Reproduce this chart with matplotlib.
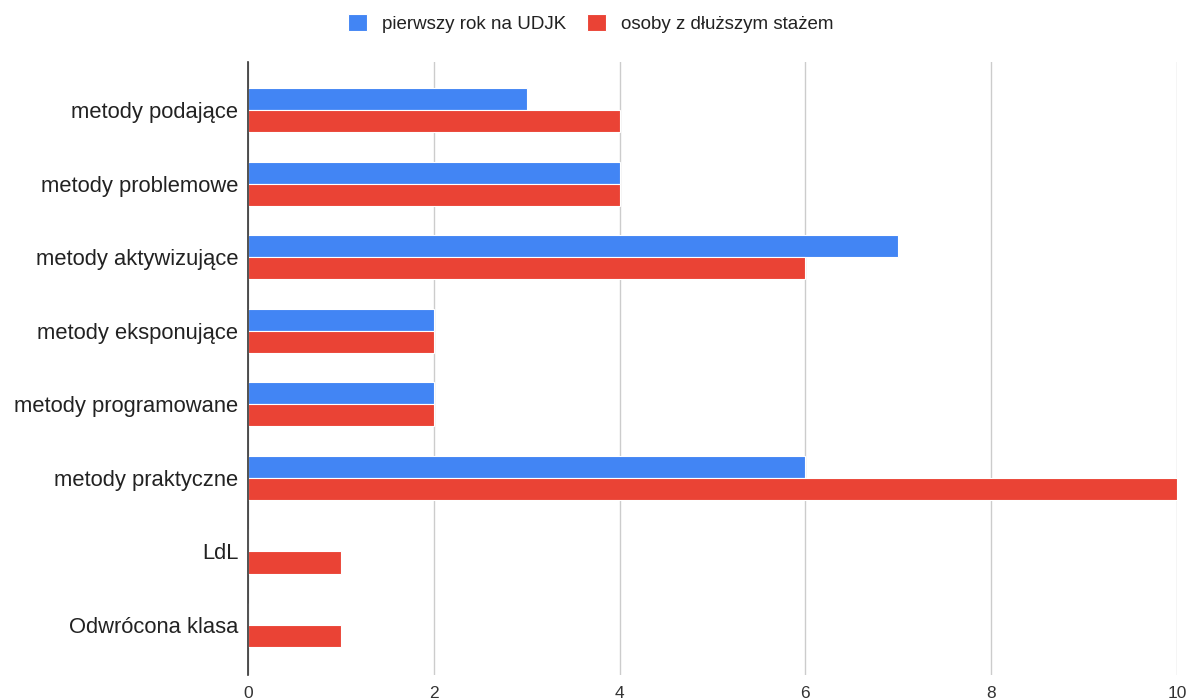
import matplotlib.pyplot as plt
import numpy as np

# - Horizontal grouped bars: teaching methods by group - #

categories = ["metody podające", "metody problemowe", "metody aktywizujące",
              "metody eksponujące", "metody programowane", "metody praktyczne",
              "LdL", "Odwrócona klasa"]
first_year = [3, 4, 7, 2, 2, 6, 0, 0]
experienced = [4, 4, 6, 2, 2, 10, 1, 1]
series_names = ["pierwszy rok na UDJK", "osoby z dłuższym stażem"]
x_ticks = [0, 2, 4, 6, 8, 10]

plt.rcParams['font.family'] = ['Liberation Sans', 'DejaVu Sans']

fig = plt.figure(figsize=(11.89, 7), dpi=100)
ax = fig.add_axes([0.2086, 0.0357, 0.7812, 0.8757])

y = np.arange(len(categories))
h = 0.3
ax.barh(y - h / 2, first_year, height=h, color="#4285F4", edgecolor="white",
        linewidth=0.8, label=series_names[0], zorder=3)
ax.barh(y + h / 2, experienced, height=h, color="#EA4335", edgecolor="white",
        linewidth=0.8, label=series_names[1], zorder=3)

ax.set_xlim(0, 10)
ax.set_ylim(7.68, -0.654)
ax.set_yticks(y)
ax.set_yticklabels(categories, fontsize=15.8, color="#222222")
ax.set_xticks(x_ticks)
ax.set_xticklabels([str(t) for t in x_ticks], fontsize=12.5, color="#333333")
ax.tick_params(axis='y', length=0, pad=7)
ax.tick_params(axis='x', length=0, pad=8)

ax.grid(axis='x', color="#cccccc", linewidth=1, zorder=0)
for s in ["top", "right", "bottom"]:
    ax.spines[s].set_visible(False)
ax.spines["left"].set_color("#333333")
ax.spines["left"].set_linewidth(1.2)
ax.spines["left"].set_zorder(4)

leg = fig.legend(loc="center", bbox_to_anchor=(0.497, 0.966), ncol=2, frameon=False,
                 fontsize=13.5, handlelength=1.0, handleheight=1.0, columnspacing=1.1,
                 handletextpad=0.8)
for t in leg.get_texts():
    t.set_color("#222222")

fig.savefig("out.png", dpi=100)
